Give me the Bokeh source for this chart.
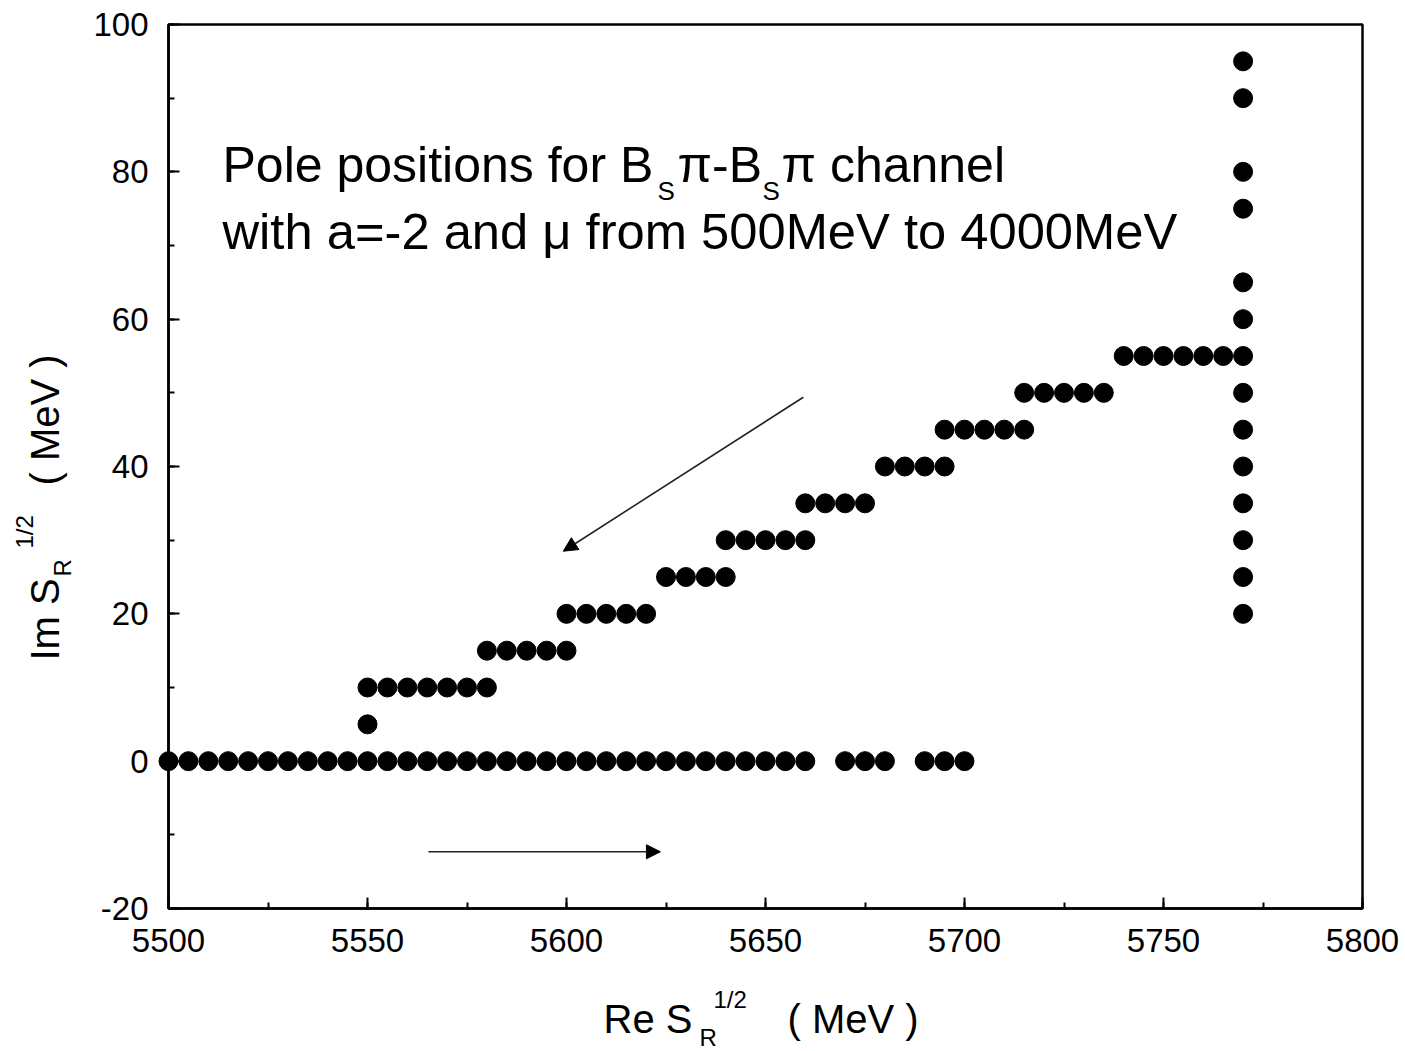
import math
from bokeh.plotting import figure
from bokeh.models import (Label, Arrow, NormalHead, Range1d, SingleIntervalTicker,
                          ColumnDataSource, BoxAnnotation, NumeralTickFormatter)
from bokeh.embed import file_html
from bokeh.resources import INLINE

# ---- data: pole positions (Re, Im) in MeV ----
re_im0 = [5500, 5505, 5510, 5515, 5520, 5525, 5530, 5535, 5540, 5545, 5550, 5555,
          5560, 5565, 5570, 5575, 5580, 5585, 5590, 5595, 5600, 5605, 5610, 5615,
          5620, 5625, 5630, 5635, 5640, 5645, 5650, 5655, 5660,
          5670, 5675, 5680, 5690, 5695, 5700]
im_im0 = [0] * len(re_im0)

re_branch = [5550,
             5550, 5555, 5560, 5565, 5570, 5575, 5580,
             5580, 5585, 5590, 5595, 5600,
             5600, 5605, 5610, 5615, 5620,
             5625, 5630, 5635, 5640,
             5640, 5645, 5650, 5655, 5660,
             5660, 5665, 5670, 5675,
             5680, 5685, 5690, 5695,
             5695, 5700, 5705, 5710, 5715,
             5715, 5720, 5725, 5730, 5735,
             5740, 5745, 5750, 5755, 5760, 5765, 5770]
im_branch = [5,
             10, 10, 10, 10, 10, 10, 10,
             15, 15, 15, 15, 15,
             20, 20, 20, 20, 20,
             25, 25, 25, 25,
             30, 30, 30, 30, 30,
             35, 35, 35, 35,
             40, 40, 40, 40,
             45, 45, 45, 45, 45,
             50, 50, 50, 50, 50,
             55, 55, 55, 55, 55, 55, 55]

re_column = [5770] * 13
im_column = [20, 25, 30, 35, 40, 45, 50, 60, 65, 75, 80, 90, 95]

# arrows (start, end) in data units
arrow1 = (5659.5, 49.4, 5599.2, 28.5)
arrow2 = (5565.3, -12.3, 5623.6, -12.3)

X_MIN, X_MAX = 5500, 5800
Y_MIN, Y_MAX = -20, 100
x_ticks_interval = 50
y_ticks_interval = 20

FONT = "Liberation Sans"

# ---- layout: the frame covers the whole canvas; axes are pinned at the data box ----
W, H = 1400, 1050
BOX_L, BOX_R, BOX_T, BOX_B = 168, 1362, 24, 908   # pixel box of the data area
sx = (BOX_R - BOX_L) / (X_MAX - X_MIN)
sy = (BOX_B - BOX_T) / (Y_MAX - Y_MIN)
x0 = X_MIN - BOX_L / sx
x1 = x0 + W / sx
y1 = Y_MAX + BOX_T / sy
y0 = y1 - H / sy

p = figure(x_range=Range1d(x0, x1), y_range=Range1d(y0, y1),
           width=W, height=H, min_border=0,
           output_backend="svg", toolbar_location=None)
p.background_fill_color = "white"
p.border_fill_color = "white"
p.grid.visible = False
p.outline_line_color = None

p.xaxis.fixed_location = Y_MIN
p.xaxis.bounds = (X_MIN, X_MAX)
p.yaxis.fixed_location = X_MIN
p.yaxis.bounds = (Y_MIN, Y_MAX)

for ax in (p.xaxis[0], p.yaxis[0]):
    ax.axis_line_width = 2.5
    ax.axis_line_color = "black"
    ax.major_tick_in = 11
    ax.major_tick_out = 0
    ax.minor_tick_in = 6
    ax.minor_tick_out = 0
    ax.major_tick_line_width = 2
    ax.minor_tick_line_width = 2
    ax.major_tick_line_color = "black"
    ax.minor_tick_line_color = "black"
    ax.major_label_text_font = FONT
    ax.major_label_text_font_size = "33px"
    ax.major_label_text_color = "black"
    ax.formatter = NumeralTickFormatter(format="0")

p.xaxis.ticker = SingleIntervalTicker(interval=x_ticks_interval, num_minor_ticks=2)
p.yaxis.ticker = SingleIntervalTicker(interval=y_ticks_interval, num_minor_ticks=2)
p.xaxis.major_label_standoff = 20
p.yaxis.major_label_standoff = 20

p.add_layout(BoxAnnotation(left=X_MIN, right=X_MAX, bottom=Y_MIN, top=Y_MAX,
                           fill_alpha=0, line_color="black", line_alpha=1.0, line_width=2.5))

src = ColumnDataSource(dict(x=re_im0 + re_branch + re_column,
                            y=im_im0 + im_branch + im_column))
p.scatter("x", "y", source=src, size=19, fill_color="black", line_color="black")

for (xs, ys, xe, ye) in (arrow1, arrow2):
    p.add_layout(Arrow(end=NormalHead(size=14, fill_color="black", line_color="black", line_width=1),
                       x_start=xs, y_start=ys, x_end=xe, y_end=ye,
                       line_width=1.6, line_color="#222222"))

def px2x(px):
    return X_MIN + (px - BOX_L) / sx

def py2y(py):
    return Y_MIN + (BOX_B - py) / sy

def lab(text, px, py, size, rotated=False):
    # px, py: start of the text's baseline in canvas pixels
    if rotated:
        px = px - 0.40 * size
        angle = math.pi / 2
    else:
        py = py - 0.37 * size
        angle = 0.0
    p.add_layout(Label(x=px2x(px), y=py2y(py), text=text, text_font=FONT,
                       text_font_size=f"{size}px", text_color="black",
                       text_baseline="alphabetic", text_align="left", angle=angle))

# annotation
lab("Pole positions for B", 222, 183, 50)
lab("S", 657, 200, 26)
lab("\u03c0-B", 677, 183, 50)
lab("S", 762, 200, 26)
lab("\u03c0 channel", 781, 183, 50)
lab("with a=-2 and \u03bc from 500MeV to 4000MeV", 222, 250, 50.7)

# x axis title
lab("Re S", 603, 1033, 40)
lab("R", 699, 1046, 24)
lab("1/2", 713, 1008, 24)
lab("( MeV )", 787, 1033, 40)

# y axis title (rotated)
lab("Im S", 60, 660, 40, True)
lab("R", 72, 576, 24, True)
lab("1/2", 34, 548, 24, True)
lab("( MeV )", 60, 485, 40, True)

open("out.html", "w").write(file_html(p, INLINE))
